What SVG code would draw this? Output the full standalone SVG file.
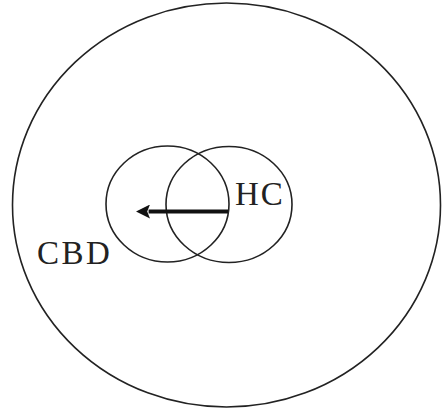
<svg xmlns="http://www.w3.org/2000/svg" width="442" height="409" viewBox="0 0 442 409">
<style>
.c{fill:none;stroke:#222;stroke-width:1.6}
.t{font-family:"Liberation Serif",serif;font-size:33px;fill:#222}
</style>
<defs>
<marker id="ah" viewBox="0 0 10 10" refX="1" refY="5" markerWidth="3.5" markerHeight="3.5" orient="auto-start-reverse" markerUnits="strokeWidth">
<path d="M0,0 L10,5 L0,10 L2,5 z" fill="#111"/>
</marker>
</defs>
<rect width="442" height="409" fill="#fff"/>
<g id="city"><ellipse class="c" cx="226.5" cy="205" rx="214" ry="202"/></g>
<g id="cbd"><ellipse class="c" cx="167.5" cy="204" rx="61.5" ry="58"/>
<text class="t" x="37" y="264" letter-spacing="2.5">CBD</text></g>
<g id="hc"><ellipse class="c" cx="229" cy="204.5" rx="63" ry="58"/>
<text class="t" x="235" y="205" letter-spacing="2">HC</text></g>
<g id="connectors">
<line x1="228" y1="211.5" x2="148.6" y2="211.5" stroke="#111" stroke-width="4" marker-end="url(#ah)"/>
</g>
</svg>
